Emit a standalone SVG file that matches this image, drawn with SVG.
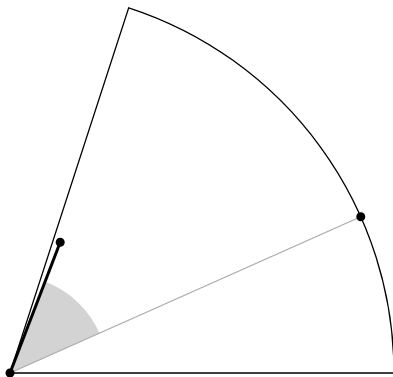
<svg xmlns="http://www.w3.org/2000/svg" width="393" height="377" viewBox="0 0 393 377">
<style>
.outline{fill:none;stroke:#000;stroke-width:1.3}
.dot{fill:#000}
</style>
<rect width="393" height="377" fill="#fff"/>
<g id="wedge"><path d="M10,373 L99.5,333.1 A98,98 0 0 0 45.1,281.5 Z" fill="#d3d3d3"/></g>
<g id="sector"><path class="outline" d="M10,373 L394,373 A384,384 0 0 0 128.7,7.8 Z"/></g>
<g id="connectors">
<line x1="10" y1="373" x2="360.8" y2="216.8" stroke="#aaa" stroke-width="1.2"/>
<line x1="10" y1="373" x2="60.2" y2="242.3" stroke="#000" stroke-width="3"/>
</g>
<g id="origin"><circle class="dot" cx="10" cy="373" r="4.5"/></g>
<g id="pointA"><circle class="dot" cx="360.8" cy="216.8" r="4.5"/></g>
<g id="pointB"><circle class="dot" cx="60.2" cy="242.3" r="4.5"/></g>
</svg>
